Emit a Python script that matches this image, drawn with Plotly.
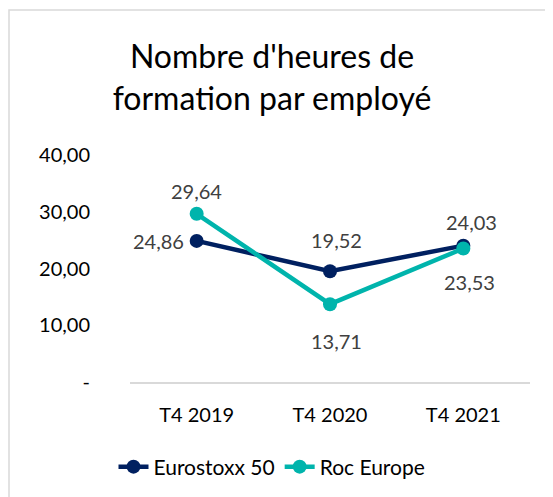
import plotly.graph_objects as go

categories = ["T4 2019", "T4 2020", "T4 2021"]
eurostoxx = [24.86, 19.52, 24.03]
roc_europe = [29.64, 13.71, 23.53]
y_tick_vals = [0, 10, 20, 30, 40]
y_tick_text = ["-", "10,00", "20,00", "30,00", "40,00"]

def fmt(v):
    return f"{v:.2f}".replace(".", ",")

FONT = "Lato"
NAVY = "#002060"
TEAL = "#00B4AC"

# plot area in figure pixels (page has 8px body margin)
L, R, T, B = 122, 522, 147, 374
W, H = 553, 497
PW, PH = R - L, B - T

# label offsets (pixels) relative to each point
e_shift = [(-38, 0), (6, 31), (8, 24)]
r_shift = [(0, 23), (6, -37), (6, -34)]

fig = go.Figure()
fig.add_trace(go.Scatter(
    x=categories, y=eurostoxx, name="Eurostoxx 50",
    mode="lines+markers",
    line=dict(color=NAVY, width=4.5),
    marker=dict(color=NAVY, size=14),
    cliponaxis=False,
))
fig.add_trace(go.Scatter(
    x=categories, y=roc_europe, name="Roc Europe",
    mode="lines+markers",
    line=dict(color=TEAL, width=4.5),
    marker=dict(color=TEAL, size=14),
    cliponaxis=False,
))

annotations = []
for vals, shifts in ((eurostoxx, e_shift), (roc_europe, r_shift)):
    for c, v, (dx, dy) in zip(categories, vals, shifts):
        annotations.append(dict(
            x=c, y=v, xref="x", yref="y", text=fmt(v), showarrow=False,
            xshift=dx, yshift=dy, xanchor="center", yanchor="middle",
            font=dict(family=FONT, size=20, color="#404040")))

fig.update_layout(
    width=W, height=H,
    margin=dict(l=L, r=W - R, t=T, b=H - B),
    paper_bgcolor="white", plot_bgcolor="white",
    font=dict(family=FONT, size=20, color="black"),
    title=dict(text="Nombre d'heures de<br>formation par employé",
               font=dict(family=FONT, size=32, color="black"),
               x=264 / W, xanchor="center", y=1 - 60 / H, yanchor="middle"),
    showlegend=True,
    legend=dict(orientation="h", x=(264 - L) / PW, xanchor="center",
                y=(B - 459) / PH, yanchor="middle",
                font=dict(family=FONT, size=21, color="black")),
    annotations=annotations,
    shapes=[dict(type="rect", xref="paper", yref="paper",
                 x0=(1 - L) / PW, x1=(600 - L) / PW,
                 y0=(B - 560) / PH, y1=(B - 2) / PH,
                 line=dict(color="#D9D9D9", width=1.5), layer="below")],
)
fig.update_xaxes(range=[-0.5, 2.5], showgrid=False, showline=True,
                 linecolor="#D9D9D9", linewidth=2, ticks="",
                 ticklabelstandoff=14,
                 tickfont=dict(family=FONT, size=20, color="black"))
fig.update_yaxes(range=[0, 40], tickvals=y_tick_vals, ticktext=y_tick_text,
                 showgrid=False, zeroline=False, showline=False, ticks="",
                 ticklabelstandoff=39,
                 tickfont=dict(family=FONT, size=20, color="black"))

fig.write_html("out.html")
